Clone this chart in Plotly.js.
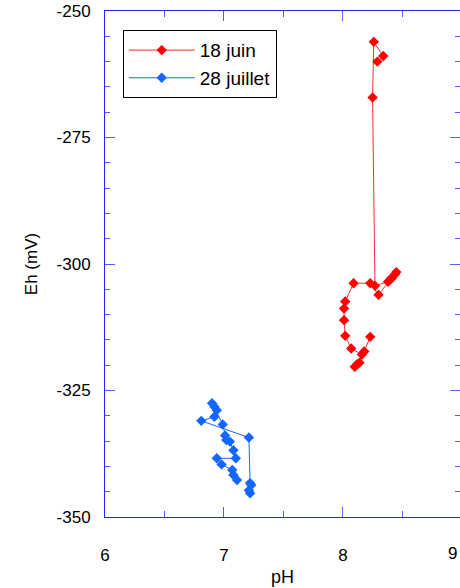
<!DOCTYPE html>
<html><head><meta charset="utf-8">
<script src="https://cdn.plot.ly/plotly-3.0.1.min.js"></script>
<style>html,body{margin:0;padding:0;background:#fff;}#chart{width:460px;height:588px;}</style>
</head><body><div id="chart"></div>
<script>
// 18 juin
const juinPH = [8.29, 8.34, 8.26, 8.25, 8.27, 8.38, 8.41, 8.44, 8.45, 8.40, 8.30, 8.23, 8.09, 8.02, 8.01, 8.01, 8.02, 8.07, 8.16, 8.14, 8.10, 8.12, 8.18, 8.23];
const juinEh = [-260.0, -258.9, -256.1, -267.1, -304.3, -303.5, -302.8, -302.0, -301.6, -303.0, -306.1, -303.8, -303.8, -307.4, -308.8, -311.1, -314.2, -316.7, -317.9, -319.5, -320.3, -319.8, -317.3, -314.4];
// 28 juillet
const juilPH = [7.22, 7.21, 7.23, 7.22, 7.21, 6.81, 6.92, 6.94, 6.92, 6.90, 6.99, 7.01, 7.02, 7.05, 7.08, 7.10, 6.94, 6.98, 7.07, 7.08, 7.11];
const juilEh = [-345.3, -344.7, -343.7, -343.3, -334.3, -331.0, -330.2, -328.9, -328.2, -327.5, -331.7, -333.9, -334.8, -335.1, -336.8, -338.4, -338.4, -339.6, -340.7, -341.7, -342.7];
const seriesNames = ['18 juin', '28 juillet'];
// tick labels
const xTickVals = [6, 7, 8, 9];
const xTickText = ['6', '7', '8', '9'];
const yTickVals = [-350, -325, -300, -275, -250];
const yTickText = ['-350', '-325', '-300', '-275', '-250'];

const FONT = 'Liberation Sans, Arial, Helvetica, sans-serif';
const traces = [
  {x: juinPH, y: juinEh, name: seriesNames[0], mode: 'lines+markers', type: 'scatter',
   line: {color: '#ff2a2a', width: 1}, marker: {symbol: 'diamond', size: 8, color: '#ff0000'}},
  {x: juilPH, y: juilEh, name: seriesNames[1], mode: 'lines+markers', type: 'scatter',
   line: {color: '#1a66ff', width: 1}, marker: {symbol: 'diamond', size: 8, color: '#1466ff'}}
];
const axBase = {
  showgrid: false, zeroline: false, showline: true, linecolor: '#2222ff', linewidth: 1,
  mirror: 'ticks', ticks: 'inside', tickcolor: '#5a5aff', ticklen: 10, tickwidth: 1,
  tickfont: {family: FONT, size: 17, color: '#000'}
};
const xMax = 8.985;
const layout = {
  width: 460, height: 588,
  margin: {l: 105, r: 0, t: 11, b: 71},
  paper_bgcolor: '#fff', plot_bgcolor: '#fff',
  showlegend: true,
  legend: {x: 0.05, y: 0.962, xanchor: 'left', yanchor: 'top', bgcolor: '#fff',
           bordercolor: '#000', borderwidth: 1, itemwidth: 66,
           font: {family: FONT, size: 19, color: '#000'}, tracegroupgap: 0},
  xaxis: Object.assign({}, axBase, {
    range: [6, xMax], tickmode: 'array', tickvals: xTickVals.slice(0, 3), ticktext: xTickText.slice(0, 3),
    ticklabelstandoff: 23,
    minor: {tickmode: 'array', tickvals: [6.5, 7.5, 8.5], ticks: 'inside', ticklen: 6, tickcolor: '#5a5aff'},
    title: {text: 'pH', font: {family: FONT, size: 18, color: '#000'}, standoff: 5}
  }),
  yaxis: Object.assign({}, axBase, {
    range: [-350, -250], tickmode: 'array', tickvals: yTickVals, ticktext: yTickText,
    ticklabelstandoff: 10,
    minor: {dtick: 5, tick0: -350, ticks: 'inside', ticklen: 5, tickcolor: '#5a5aff'},
    title: {text: 'Eh (mV)', font: {family: FONT, size: 17, color: '#000'}, standoff: 14}
  }),
  annotations: [{
    x: 1, y: 0, xref: 'paper', yref: 'paper', text: xTickText[3], showarrow: false,
    xanchor: 'right', yanchor: 'top', yshift: -25, xshift: -1, font: {family: FONT, size: 17, color: '#000'}
  }]
};
Plotly.newPlot('chart', traces, layout, {displayModeBar: false, staticPlot: true});
</script></body></html>
